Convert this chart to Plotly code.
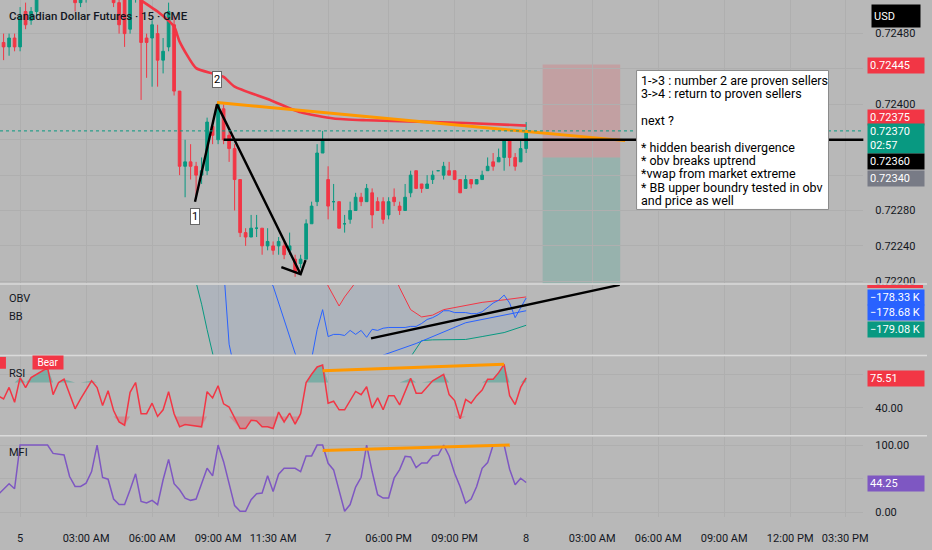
import numpy as np
import plotly.graph_objects as go
from plotly.subplots import make_subplots

W, H = 932, 550
FONT = "Roboto"
BG = "#b8b8b8"
GRID = "#afafaf"
SEP = "#dadada"
INK = "#131722"
UP = "#089981"
DOWN = "#f23645"
BLUE = "#2962ff"
PURPLE = "#7e57c2"
ORANGE = "#ff9800"
PLOT_RIGHT = 868 / W
TAG_LEFT = 872 / W


def px_x(px):
    return px / W


def px_y(py):
    return 1 - py / H


# ---- price pane: 15 min bars, bar 0 = start of the 5th ----
bar = list(range(-3, 93))
open_ = [
    0.72470, 0.72465, 0.72475, 0.72465, 0.72505, 0.72495, 0.72505, 0.72525, 0.72540, 0.72550,
    0.72545, 0.72535, 0.72530, 0.72535, 0.72515, 0.72530, 0.72540, 0.72530, 0.72540, 0.72535,
    0.72530, 0.72515, 0.72520, 0.72485, 0.72520, 0.72530, 0.72475, 0.72475, 0.72480, 0.72450,
    0.72465, 0.72490, 0.72415, 0.72330, 0.72335, 0.72330, 0.72320, 0.72325, 0.72375, 0.72360,
    0.72395, 0.72365, 0.72350, 0.72315, 0.72255, 0.72250, 0.72260, 0.72260, 0.72240, 0.72240,
    0.72240, 0.72240, 0.72235, 0.72225, 0.72220, 0.72225, 0.72265, 0.72290, 0.72345, 0.72315,
    0.72290, 0.72290, 0.72265, 0.72270, 0.72280, 0.72295, 0.72290, 0.72300, 0.72290, 0.72290,
    0.72275, 0.72295, 0.72285, 0.72280, 0.72300, 0.72325, 0.72310, 0.72305, 0.72315, 0.72325,
    0.72320, 0.72325, 0.72325, 0.72315, 0.72305, 0.72315, 0.72310, 0.72315, 0.72325, 0.72335,
    0.72335, 0.72340, 0.72360, 0.72340, 0.72335, 0.72350,
]
high = [
    0.72480, 0.72480, 0.72480, 0.72510, 0.72515, 0.72510, 0.72530, 0.72545, 0.72560, 0.72565,
    0.72555, 0.72545, 0.72545, 0.72540, 0.72535, 0.72545, 0.72550, 0.72545, 0.72550, 0.72545,
    0.72535, 0.72525, 0.72525, 0.72530, 0.72540, 0.72535, 0.72480, 0.72495, 0.72490, 0.72475,
    0.72515, 0.72500, 0.72415, 0.72360, 0.72355, 0.72335, 0.72340, 0.72385, 0.72380, 0.72400,
    0.72400, 0.72370, 0.72355, 0.72315, 0.72260, 0.72275, 0.72275, 0.72260, 0.72260, 0.72245,
    0.72250, 0.72245, 0.72255, 0.72230, 0.72230, 0.72270, 0.72290, 0.72355, 0.72370, 0.72330,
    0.72310, 0.72290, 0.72275, 0.72290, 0.72300, 0.72300, 0.72310, 0.72305, 0.72295, 0.72295,
    0.72295, 0.72305, 0.72290, 0.72310, 0.72325, 0.72325, 0.72310, 0.72320, 0.72325, 0.72325,
    0.72335, 0.72335, 0.72325, 0.72315, 0.72320, 0.72315, 0.72315, 0.72325, 0.72340, 0.72345,
    0.72350, 0.72360, 0.72360, 0.72345, 0.72360, 0.72380,
]
low = [
    0.72450, 0.72455, 0.72460, 0.72460, 0.72485, 0.72490, 0.72500, 0.72520, 0.72535, 0.72540,
    0.72530, 0.72525, 0.72525, 0.72505, 0.72510, 0.72515, 0.72525, 0.72520, 0.72525, 0.72520,
    0.72510, 0.72480, 0.72465, 0.72480, 0.72515, 0.72405, 0.72430, 0.72420, 0.72420, 0.72435,
    0.72460, 0.72410, 0.72320, 0.72295, 0.72315, 0.72295, 0.72310, 0.72320, 0.72355, 0.72355,
    0.72355, 0.72335, 0.72280, 0.72250, 0.72240, 0.72250, 0.72250, 0.72230, 0.72235, 0.72230,
    0.72230, 0.72225, 0.72230, 0.72205, 0.72215, 0.72225, 0.72265, 0.72285, 0.72345, 0.72270,
    0.72280, 0.72260, 0.72255, 0.72265, 0.72280, 0.72285, 0.72290, 0.72260, 0.72280, 0.72265,
    0.72270, 0.72285, 0.72275, 0.72280, 0.72295, 0.72305, 0.72300, 0.72305, 0.72310, 0.72325,
    0.72315, 0.72320, 0.72315, 0.72300, 0.72305, 0.72305, 0.72310, 0.72315, 0.72325, 0.72325,
    0.72335, 0.72325, 0.72330, 0.72325, 0.72335, 0.72345,
]
close = [
    0.72465, 0.72475, 0.72465, 0.72500, 0.72490, 0.72505, 0.72525, 0.72540, 0.72550, 0.72545,
    0.72535, 0.72530, 0.72535, 0.72515, 0.72530, 0.72540, 0.72530, 0.72540, 0.72535, 0.72530,
    0.72515, 0.72490, 0.72480, 0.72520, 0.72530, 0.72470, 0.72470, 0.72490, 0.72450, 0.72460,
    0.72505, 0.72415, 0.72330, 0.72335, 0.72330, 0.72320, 0.72325, 0.72380, 0.72365, 0.72400,
    0.72360, 0.72350, 0.72315, 0.72255, 0.72250, 0.72260, 0.72260, 0.72240, 0.72245, 0.72235,
    0.72245, 0.72230, 0.72240, 0.72210, 0.72225, 0.72265, 0.72285, 0.72345, 0.72360, 0.72285,
    0.72290, 0.72260, 0.72265, 0.72280, 0.72295, 0.72290, 0.72305, 0.72275, 0.72280, 0.72270,
    0.72290, 0.72290, 0.72280, 0.72295, 0.72320, 0.72305, 0.72305, 0.72310, 0.72320, 0.72325,
    0.72330, 0.72320, 0.72315, 0.72300, 0.72315, 0.72310, 0.72315, 0.72320, 0.72330, 0.72330,
    0.72340, 0.72360, 0.72340, 0.72330, 0.72350, 0.72370,
]

# anchored vwap (from the market extreme)
vwap_bar = [21, 22, 25, 28, 29, 32, 35, 37, 39, 45, 51, 57, 63, 81, 92]
vwap = [0.72528, 0.72518, 0.72505, 0.72488, 0.72471, 0.72441, 0.72435, 0.72431,
        0.72420, 0.72406, 0.72391, 0.72384, 0.72382, 0.72379, 0.72376]

# drawings on the price pane
wave_bar = [31.8, 35.8, 51.0]
wave_price = [0.72290, 0.72400, 0.72208]
arrow_bar = [47.5, 51.0, 51.9]
arrow_price = [0.72216, 0.72208, 0.72224]
wave_label_bar = [31.8, 35.8]
wave_label_price = [0.72273, 0.72428]
wave_label_text = ["1", "2"]
trend_bar = [35.8, 110.0]
trend_price = [0.72402, 0.72359]
level_bar = [37, 154]
level_price = [0.72360, 0.72360]
position_bar = [95.0, 109.1]
stop_price, entry_price, target_price = 0.72445, 0.72340, 0.72180

# labelled price ticks; the others sit behind the price tags and only show as grid
price_ticks = [0.72200, 0.72240, 0.72280, 0.72400, 0.72480]
price_grid = [0.72320, 0.72360, 0.72440]
price_tag_values = [0.72445, 0.72375, 0.72370, 0.72360, 0.72340]
price_tag_colors = [DOWN, DOWN, UP, "#000000", "#787b86"]
price_tag_shift = [-1, 9, -8, -22, -21]
countdown = "02:57"

note_lines = [
    "1->3 : number 2 are proven sellers",
    "3->4 : return to proven sellers",
    "",
    "next ?",
    "",
    "* hidden bearish divergence",
    "* obv breaks uptrend",
    "*vwap from market extreme",
    "* BB upper boundry tested in obv",
    "and price as well",
]

# ---- OBV + Bollinger bands (thousands) ----
obv_bar = [22, 30, 34, 36, 37, 38, 39] + list(range(52, 93))
obv = [-176.8, -177.2, -177.3, -177.2, -177.5, -179.6, -180.3,
       -180.4, -180.0, -179.2, -178.65, -179.39, -179.33, -179.33, -179.36, -179.22, -179.33,
       -179.22, -179.41, -179.19, -179.22, -179.16, -179.14, -179.14, -179.14, -179.14, -179.11,
       -179.11, -179.03, -178.92, -178.87, -178.79, -178.68, -178.68, -178.73, -178.73, -178.73,
       -178.76, -178.76, -178.71, -178.60, -178.47, -178.39, -178.25, -178.47, -178.87, -178.60,
       -178.33]
bb_bar = [22, 30, 32, 33, 34, 35, 36, 40, 50, 55, 56, 58, 59, 61, 63, 66, 68, 69, 71, 73,
          75, 77, 81, 84, 88, 92]
bb_upper = [-175.0, -176.0, -176.2, -176.3, -176.4, -176.5, -176.6, -176.8, -177.2, -177.6,
            -178.0, -178.55, -178.3, -177.9, -177.4, -177.3, -177.7, -178.05, -178.65, -178.85,
            -178.8, -178.65, -178.54, -178.45, -178.38, -178.30]
bb_lower = [-177.3, -177.7, -177.9, -178.5, -179.2, -179.8, -180.5, -181.5, -182.2, -182.0,
            -181.9, -181.7, -181.6, -181.4, -181.2, -180.9, -180.6, -180.4, -179.95, -179.5,
            -179.48, -179.47, -179.47, -179.39, -179.28, -179.08]
basis_bar = [40, 45, 46, 48, 50, 51, 60, 64, 66, 72, 75, 81, 92]
bb_basis = [-177.0, -177.8, -178.0, -178.9, -179.85, -180.2, -180.4, -180.1, -179.9,
            -179.58, -179.39, -179.01, -178.68]
obv_trend_bar = [63.8, 109.0]
obv_trend = [-179.44, -177.97]
obv_tag_values = [-178.33, -178.68, -179.08]
obv_tag_colors = [BLUE, BLUE, UP]
obv_tag_shift = [1, -2, -4]

# ---- RSI ----
rsi_bar = [-4, -3, -2, -1, 0, 1, 2, 4, 5, 6, 7, 8, 10, 11] + list(range(13, 32)) + \
    [33, 34, 35, 36, 37, 38] + list(range(40, 60)) + list(range(61, 70)) + \
    [71, 72, 73, 75] + list(range(77, 93))
rsi = [54.5, 50.6, 64.2, 46.7, 75.8, 64.0, 75.8, 83.6, 87.4, 55.7, 70.0, 73.9, 39.0, 50.6,
       72.0, 64.0, 42.9, 60.3, 37.0, 23.5, 19.6, 58.4, 70.0, 33.2, 33.2, 45.6, 30.0, 37.8,
       59.2, 33.2, 17.7, 20.4, 19.6,
       17.7, 59.2, 51.8, 66.2, 44.8, 41.0,
       15.7, 15.7, 25.5, 24.7, 17.7, 17.7, 15.7, 35.1, 23.5, 34.0, 20.8, 33.2, 70.0, 79.7,
       88.3, 90.6, 45.6, 47.9, 37.8, 37.8,
       59.5, 55.7, 65.0, 39.8, 51.8, 37.8, 54.5, 54.5, 43.6,
       75.0, 57.2, 57.2, 72.0,
       79.7, 55.7, 48.7, 27.3, 50.0, 45.6, 54.5, 61.0, 73.9, 73.9, 81.6, 91.3, 54.5, 44.0,
       64.2, 75.51]
rsi_levels = [70, 50, 30]
rsi_ticks = [40]
rsi_grid = [80]
rsi_div_bar = [55, 88]
rsi_div = [84.0, 91.5]

# ---- MFI ----
mfi_bar = [-4, -2, -1, 0, 5, 6] + list(range(8, 93))
mfi = [26.1, 42.4, 35.0, 100, 100, 87.6,
       85.2, 53.2, 38.4, 38.4, 43.3, 60.6, 100, 51.7, 49.2, 19.7, 11.4, 11.4, 33.5, 57.2,
       16.2, 13.7, 17.7, 11.4, 48.3, 78.7, 42.4, 33.5, 21.1, 17.7, 19.7, 43.3, 65.4, 54.2,
       100, 75.3, 44.3, 9.9, 1.5, 1.5, 18.7, 27.6, 28.5, 54.2, 31.0, 56.6, 65.4, 65.4, 65.4,
       60.6, 83.8, 83.8, 100, 100, 72.8, 63.0, 33.5, 1.5, 11.4, 37.4, 52.1, 100, 60.6, 26.1,
       21.1, 21.1, 50.7, 63.5, 83.2, 82.3, 66.5, 73.4, 73.4, 83.8, 85.2, 100, 83.8, 58.0,
       38.0, 13.7, 19.7, 38.4, 65.4, 73.9, 100, 100, 100, 64.0, 40.9, 50.7, 44.25]
mfi_levels = [80, 50, 20]
mfi_ticks = [0, 100]
mfi_grid = [50]
mfi_div_bar = [55, 89]
mfi_div = [92.0, 100.0]

# ---- time axis ----
time_ticks = [0, 12, 24, 36, 46, 56, 67, 79, 92, 104, 116, 128, 140, 150]
time_labels = ["5", "03:00 AM", "06:00 AM", "09:00 AM", "11:30 AM", "7", "06:00 PM",
               "09:00 PM", "8", "03:00 AM", "06:00 AM", "09:00 AM", "12:00 PM", "03:30 PM"]
X_RANGE = [-3.65, 153.3]

fig = make_subplots(rows=4, cols=1, shared_xaxes=True, vertical_spacing=0.0)

# price pane
fig.add_trace(go.Candlestick(
    x=bar, open=open_, high=high, low=low, close=close,
    increasing=dict(line=dict(color=UP, width=1), fillcolor=UP),
    decreasing=dict(line=dict(color=DOWN, width=1), fillcolor=DOWN),
    whiskerwidth=0, showlegend=False, hoverinfo="skip"), row=1, col=1)
fig.add_trace(go.Scatter(x=vwap_bar, y=vwap, mode="lines",
                         line=dict(color=DOWN, width=2.6, shape="spline", smoothing=0.6),
                         showlegend=False), row=1, col=1)
fig.add_trace(go.Scatter(x=trend_bar, y=trend_price, mode="lines",
                         line=dict(color=ORANGE, width=3), showlegend=False), row=1, col=1)
fig.add_trace(go.Scatter(x=level_bar, y=level_price, mode="lines",
                         line=dict(color="#000000", width=2.6), showlegend=False), row=1, col=1)
fig.add_trace(go.Scatter(x=wave_bar, y=wave_price, mode="lines",
                         line=dict(color="#000000", width=2.4), showlegend=False), row=1, col=1)
fig.add_trace(go.Scatter(x=arrow_bar, y=arrow_price, mode="lines",
                         line=dict(color="#000000", width=2.4), showlegend=False), row=1, col=1)

fig.add_hline(y=close[-1], line=dict(color=UP, width=1, dash="dot"), row=1, col=1)
fig.add_shape(type="rect", x0=position_bar[0], x1=position_bar[1], y0=entry_price, y1=stop_price,
              fillcolor="rgba(242,54,69,0.18)", line_width=0, layer="below", row=1, col=1)
fig.add_shape(type="rect", x0=position_bar[0], x1=position_bar[1], y0=target_price, y1=entry_price,
              fillcolor="rgba(8,153,129,0.18)", line_width=0, layer="below", row=1, col=1)

for b, p, t in zip(wave_label_bar, wave_label_price, wave_label_text):
    fig.add_annotation(x=b, y=p, xref="x", yref="y", text=t, showarrow=False,
                       yanchor="middle", xanchor="center",
                       font=dict(family=FONT, size=11, color="#000000"),
                       bgcolor="#ffffff", bordercolor="#666666", borderwidth=1, borderpad=1)

# OBV pane
fig.add_trace(go.Scatter(x=bb_bar, y=bb_upper, mode="lines", line=dict(color=DOWN, width=1),
                         showlegend=False), row=2, col=1)
fig.add_trace(go.Scatter(x=bb_bar, y=bb_lower, mode="lines", line=dict(color=UP, width=1),
                         fill="tonexty", fillcolor="rgba(90,150,230,0.10)",
                         showlegend=False), row=2, col=1)
fig.add_trace(go.Scatter(x=basis_bar, y=bb_basis, mode="lines", line=dict(color=BLUE, width=1),
                         showlegend=False), row=2, col=1)
fig.add_trace(go.Scatter(x=obv_bar, y=obv, mode="lines", line=dict(color=BLUE, width=1),
                         showlegend=False), row=2, col=1)
fig.add_trace(go.Scatter(x=obv_trend_bar, y=obv_trend, mode="lines",
                         line=dict(color="#000000", width=2.4), showlegend=False), row=2, col=1)

# RSI pane
rsi_arr = np.array(rsi)
fig.add_hrect(y0=rsi_levels[2], y1=rsi_levels[0], fillcolor="rgba(126,87,194,0.10)",
              line_width=0, layer="below", row=3, col=1)
for lv in rsi_levels:
    fig.add_hline(y=lv, line=dict(color="#787b86", width=1, dash="dash"), layer="below", row=3, col=1)
fig.add_trace(go.Scatter(x=rsi_bar, y=[rsi_levels[0]] * len(rsi_bar), mode="lines",
                         line=dict(width=0), showlegend=False), row=3, col=1)
fig.add_trace(go.Scatter(x=rsi_bar, y=np.maximum(rsi_arr, rsi_levels[0]), mode="lines",
                         line=dict(width=0), fill="tonexty", fillcolor="rgba(8,153,129,0.35)",
                         showlegend=False), row=3, col=1)
fig.add_trace(go.Scatter(x=rsi_bar, y=[rsi_levels[2]] * len(rsi_bar), mode="lines",
                         line=dict(width=0), showlegend=False), row=3, col=1)
fig.add_trace(go.Scatter(x=rsi_bar, y=np.minimum(rsi_arr, rsi_levels[2]), mode="lines",
                         line=dict(width=0), fill="tonexty", fillcolor="rgba(242,54,69,0.30)",
                         showlegend=False), row=3, col=1)
fig.add_trace(go.Scatter(x=rsi_bar, y=rsi, mode="lines", line=dict(color=DOWN, width=1.5),
                         showlegend=False), row=3, col=1)
fig.add_trace(go.Scatter(x=rsi_div_bar, y=rsi_div, mode="lines", line=dict(color=ORANGE, width=3),
                         showlegend=False), row=3, col=1)
fig.add_annotation(x=5, y=93.3, xref="x3", yref="y3", text="Bear", showarrow=False,
                   yanchor="middle", font=dict(family=FONT, size=10, color="#ffffff"),
                   bgcolor=DOWN, borderpad=1, width=28)
fig.add_shape(type="rect", x0=-4, x1=-2.57, y0=86.3, y1=100.3, fillcolor=DOWN, line_width=0,
              row=3, col=1)

# MFI pane
fig.add_hrect(y0=mfi_levels[2], y1=mfi_levels[0], fillcolor="rgba(126,87,194,0.10)",
              line_width=0, layer="below", row=4, col=1)
for lv in mfi_levels:
    fig.add_hline(y=lv, line=dict(color="#787b86", width=1, dash="dash"), layer="below", row=4, col=1)
fig.add_trace(go.Scatter(x=mfi_bar, y=mfi, mode="lines", line=dict(color=PURPLE, width=1.5),
                         showlegend=False), row=4, col=1)
fig.add_trace(go.Scatter(x=mfi_div_bar, y=mfi_div, mode="lines", line=dict(color=ORANGE, width=3),
                         showlegend=False), row=4, col=1)

# axes
domains = [(286, 0), (357, 287), (438, 359), (521, 440)]
ranges = [[0.72197, 0.72518], [-179.88, -177.97], [8.3, 100.8], [-7.4, 112.3]]
for r, ((bot, top), rng) in enumerate(zip(domains, ranges), start=1):
    fig.update_yaxes(domain=[px_y(bot), px_y(top)], range=rng, side="right",
                     showgrid=True, gridcolor=GRID, zeroline=False, showline=False,
                     ticks="", ticklabelstandoff=11,
                     tickfont=dict(family=FONT, size=11, color=INK), row=r, col=1)
    fig.update_xaxes(domain=[0, PLOT_RIGHT], range=X_RANGE, tickvals=time_ticks,
                     ticktext=time_labels, showgrid=True, gridcolor=GRID, zeroline=False,
                     showline=False, ticks="", rangeslider=dict(visible=False),
                     showticklabels=(r == 4), ticklabelstandoff=13,
                     tickfont=dict(family=FONT, size=11, color=INK), row=r, col=1)
fig.update_yaxes(tickvals=price_ticks, tickformat=".5f",
                 minor=dict(tickvals=price_grid, showgrid=True, gridcolor=GRID, ticks=""),
                 row=1, col=1)
fig.update_yaxes(showticklabels=False, showgrid=False, row=2, col=1)
fig.update_yaxes(tickvals=rsi_ticks, tickformat=".2f",
                 minor=dict(tickvals=rsi_grid, showgrid=True, gridcolor=GRID, ticks=""),
                 row=3, col=1)
fig.update_yaxes(tickvals=mfi_ticks, tickformat=".2f",
                 minor=dict(tickvals=mfi_grid, showgrid=True, gridcolor=GRID, ticks=""),
                 row=4, col=1)

# pane separators
for sep in [286, 358, 439]:
    fig.add_shape(type="line", xref="paper", yref="paper", x0=0, x1=1,
                  y0=px_y(sep), y1=px_y(sep), line=dict(color=SEP, width=1.5))


def tag(text, value, yref, color, shift, height=11):
    fig.add_annotation(x=TAG_LEFT, xref="paper", xanchor="left", y=value, yref=yref,
                       yanchor="middle", yshift=shift, text=text, showarrow=False,
                       align="left", font=dict(family=FONT, size=11, color="#ffffff"),
                       bgcolor=color, width=52, height=height, borderpad=2)


for v, c, s in zip(price_tag_values, price_tag_colors, price_tag_shift):
    if c == UP:
        tag(f"{v:.5f}<br>{countdown}", v, "y", c, s, height=25)
    else:
        tag(f"{v:.5f}", v, "y", c, s)
fig.add_shape(type="rect", xref="paper", yref="paper", x0=TAG_LEFT, x1=px_x(928),
              y0=px_y(290), y1=px_y(287), fillcolor=DOWN, line_width=0)
for v, c, s in zip(obv_tag_values, obv_tag_colors, obv_tag_shift):
    tag(f"\u2212{abs(v):.2f} K", v, "y2", c, s)
tag(f"{rsi[-1]:.2f}", rsi[-1], "y3", DOWN, -1)
tag(f"{mfi[-1]:.2f}", mfi[-1], "y4", PURPLE, -1)

# currency box
fig.add_annotation(x=px_x(876), xref="paper", xanchor="left", y=px_y(16), yref="paper",
                   yanchor="middle", text="USD", showarrow=False, align="left",
                   font=dict(family=FONT, size=11, color="#ffffff"),
                   bgcolor="#000000", width=44, height=18, borderpad=2)

# pane titles
fig.add_annotation(x=px_x(7), y=px_y(16), xref="paper", yref="paper", xanchor="left",
                   yanchor="middle", text="Canadian Dollar Futures \u00b7 15 \u00b7 CME",
                   showarrow=False, font=dict(family=FONT, size=11.5, color=INK, weight=500))
for txt, ypx in [("OBV", 301), ("BB", 319), ("RSI", 376), ("MFI", 456)]:
    fig.add_annotation(x=px_x(7), y=px_y(ypx), xref="paper", yref="paper", xanchor="left",
                       yanchor="middle", text=txt, showarrow=False,
                       font=dict(family=FONT, size=11, color=INK))

# note box
fig.add_shape(type="rect", xref="paper", yref="paper", x0=px_x(640), x1=px_x(833),
              y0=px_y(211), y1=px_y(71), fillcolor="#ffffff", line=dict(color="#8a8a8a", width=1),
              layer="above")
for k, line in enumerate(note_lines):
    if line:
        fig.add_annotation(x=px_x(643), y=px_y(81 + 13.45 * k), xref="paper", yref="paper",
                           xanchor="left", yanchor="middle", text=line, showarrow=False,
                           borderpad=0, font=dict(family=FONT, size=12.5, color="#000000"))

fig.update_layout(width=W, height=H, margin=dict(l=0, r=0, t=0, b=0),
                  paper_bgcolor=BG, plot_bgcolor=BG, showlegend=False,
                  font=dict(family=FONT, size=11, color=INK), hovermode=False)

fig.write_html("out.html", config={"displayModeBar": False},
               post_script="document.body.style.margin = '0';")
